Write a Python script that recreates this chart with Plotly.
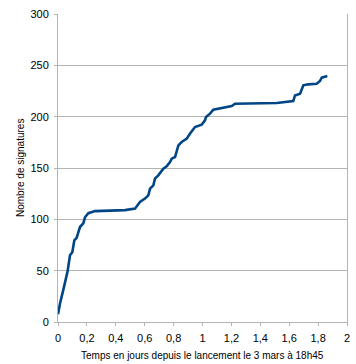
import plotly.graph_objects as go

days = [0.0, 0.014, 0.044, 0.067, 0.083, 0.099, 0.113, 0.129, 0.152, 0.175, 0.187, 0.21, 0.256,
        0.40, 0.464, 0.533, 0.567, 0.602, 0.625, 0.637, 0.66, 0.671, 0.694, 0.729, 0.752, 0.775,
        0.787, 0.81, 0.821, 0.833, 0.856, 0.891, 0.913, 0.948, 0.994, 1.017, 1.024, 1.052,
        1.075, 1.144, 1.202, 1.225, 1.329, 1.514,
        1.628, 1.64, 1.675, 1.698, 1.732, 1.79, 1.813, 1.825, 1.864]
signatures = [7.5, 18, 35.7, 50, 65, 68, 79.5, 82, 92.5, 96, 102, 106, 108,
              108.4, 109, 110.4, 116.9, 120.2, 123.4, 129.9, 133.1, 139.6, 142.8, 149.4, 151.6, 155.8,
              159.1, 160.7, 167.2, 172, 175.3, 178.6, 183.4, 189.9, 192.2, 196.4, 199.6, 202.9,
              206.8, 208.4, 210.3, 212.6, 212.8, 213.3,
              215.2, 220.7, 222.4, 230.5, 231.5, 232, 234.7, 238, 239.6]

x_tickvals = [0, 0.2, 0.4, 0.6, 0.8, 1, 1.2, 1.4, 1.6, 1.8, 2]
x_ticktext = ["0", "0,2", "0,4", "0,6", "0,8", "1", "1,2", "1,4", "1,6", "1,8", "2"]
y_tickvals = [0, 50, 100, 150, 200, 250, 300]

fig = go.Figure()
fig.add_trace(go.Scatter(x=days, y=signatures, mode="lines",
                         line=dict(color="#004586", width=2.6, shape="linear"),
                         showlegend=False, hoverinfo="skip"))

fig.update_layout(
    width=356, height=364,
    margin=dict(l=58, r=9, t=14, b=42, autoexpand=False),
    paper_bgcolor="white", plot_bgcolor="white",
    font=dict(family="Liberation Sans, Arial, sans-serif", color="#000000", size=11),
    xaxis=dict(range=[0, 2], tickvals=x_tickvals, ticktext=x_ticktext, automargin=False,
               showgrid=False, zeroline=False, showline=True, linecolor="#b3b3b3", linewidth=1,
               ticks="outside", ticklen=3, tickcolor="#b3b3b3", ticklabelstandoff=3,
               tickfont=dict(size=11)),
    yaxis=dict(range=[0, 300], tickvals=y_tickvals, automargin=False,
               showgrid=True, gridcolor="#b3b3b3", gridwidth=1, zeroline=False,
               showline=True, linecolor="#b3b3b3", linewidth=1, mirror=True,
               ticks="outside", ticklen=3, tickcolor="#b3b3b3", ticklabelstandoff=3,
               tickfont=dict(size=11)),
    annotations=[
        dict(text="Temps en jours depuis le lancement le 3 mars à 18h45",
             xref="paper", yref="paper", x=0.5, y=0, yshift=-33,
             xanchor="center", yanchor="middle", showarrow=False, font=dict(size=10)),
        dict(text="Nombre de signatures", textangle=-90,
             xref="paper", yref="paper", x=0, y=0.5, xshift=-38,
             xanchor="center", yanchor="middle", showarrow=False, font=dict(size=10)),
    ],
)

fig.write_html("out.html", config={"displayModeBar": False},
               post_script="document.body.style.margin='0';")
